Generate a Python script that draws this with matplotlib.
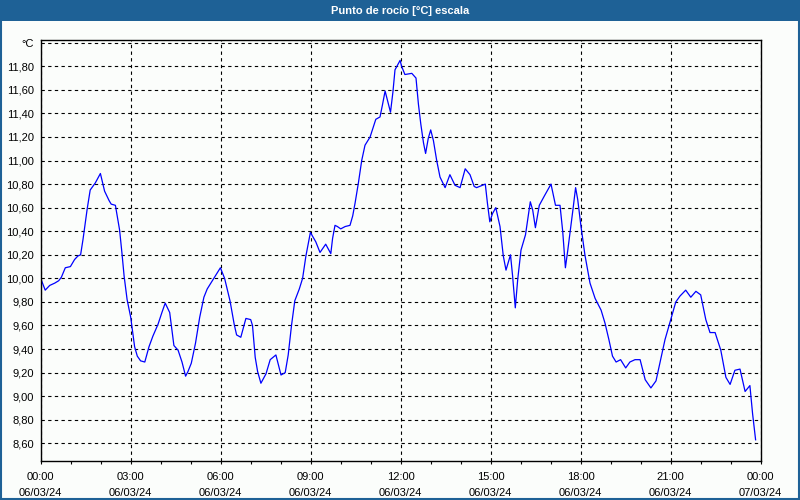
import numpy as np
import pandas as pd
import matplotlib
matplotlib.use("Agg")
import matplotlib.pyplot as plt
import matplotlib.dates as mdates
from matplotlib.patches import Rectangle

# dew point readings, hours after 06/03/24 00:00
hours = [0.00, 0.15, 0.30, 0.47, 0.60, 0.69, 0.82, 0.99, 1.13, 1.24, 1.33, 1.41, 1.55, 1.65, 1.82, 1.99,
         2.13, 2.28, 2.35, 2.49, 2.63, 2.71, 2.78, 2.88, 3.00, 3.13, 3.22, 3.33, 3.47, 3.61, 3.74, 3.91,
         4.04, 4.15, 4.30, 4.44, 4.58, 4.71, 4.83, 4.91, 5.02, 5.16, 5.30, 5.44, 5.55, 5.72, 5.89, 5.99,
         6.13, 6.31, 6.45, 6.53, 6.67, 6.84, 7.00, 7.06, 7.15, 7.23, 7.34, 7.51, 7.65, 7.84, 8.01, 8.15,
         8.25, 8.36, 8.47, 8.62, 8.73, 8.84, 8.99, 9.17, 9.31, 9.50, 9.67, 9.73, 9.81, 9.89, 10.00, 10.15,
         10.31, 10.40, 10.48, 10.59, 10.70, 10.81, 10.98, 11.07, 11.17, 11.31, 11.39, 11.48, 11.56, 11.66,
         11.74, 11.81, 11.98, 12.03, 12.14, 12.37, 12.51, 12.59, 12.67, 12.76, 12.83, 12.92, 13.00, 13.09,
         13.20, 13.31, 13.48, 13.64, 13.81, 13.98, 14.15, 14.31, 14.45, 14.53, 14.82, 14.89, 14.97, 15.06,
         15.17, 15.31, 15.42, 15.51, 15.66, 15.73, 15.82, 15.90, 16.01, 16.16, 16.32, 16.40, 16.49, 16.62,
         16.79, 17.01, 17.16, 17.31, 17.40, 17.49, 17.57, 17.74, 17.83, 17.90, 18.01, 18.14, 18.31, 18.48,
         18.68, 18.81, 18.94, 19.06, 19.18, 19.33, 19.50, 19.64, 19.81, 19.98, 20.15, 20.34, 20.51, 20.64,
         20.81, 21.00, 21.17, 21.31, 21.50, 21.67, 21.84, 22.00, 22.17, 22.31, 22.48, 22.67, 22.84, 22.98,
         23.14, 23.31, 23.48, 23.64, 23.73, 23.83]
dew = [10.00, 9.90, 9.94, 9.96, 9.98, 10.01, 10.09, 10.10, 10.16, 10.19, 10.20, 10.33, 10.59, 10.75, 10.81, 10.89,
       10.74, 10.66, 10.63, 10.62, 10.41, 10.21, 10.02, 9.82, 9.67, 9.42, 9.34, 9.30, 9.29, 9.42, 9.51, 9.61,
       9.71, 9.79, 9.71, 9.43, 9.39, 9.29, 9.17, 9.21, 9.28, 9.45, 9.67, 9.84, 9.91, 9.98, 10.05, 10.09,
       10.00, 9.81, 9.61, 9.52, 9.50, 9.66, 9.65, 9.60, 9.33, 9.21, 9.11, 9.19, 9.31, 9.35, 9.18, 9.20,
       9.35, 9.60, 9.81, 9.91, 10.00, 10.19, 10.39, 10.31, 10.22, 10.29, 10.21, 10.34, 10.45, 10.44, 10.42, 10.44,
       10.45, 10.53, 10.64, 10.81, 11.00, 11.13, 11.20, 11.27, 11.35, 11.37, 11.47, 11.59, 11.51, 11.41,
       11.58, 11.77, 11.85, 11.80, 11.73, 11.74, 11.70, 11.48, 11.31, 11.15, 11.06, 11.19, 11.26, 11.17,
       11.00, 10.86, 10.77, 10.88, 10.79, 10.77, 10.93, 10.88, 10.78, 10.77, 10.80, 10.64, 10.48, 10.55,
       10.60, 10.44, 10.19, 10.07, 10.20, 10.02, 9.75, 9.99, 10.24, 10.37, 10.65, 10.58, 10.43, 10.62,
       10.70, 10.80, 10.62, 10.62, 10.40, 10.09, 10.24, 10.58, 10.77, 10.67, 10.44, 10.20, 9.96, 9.83,
       9.73, 9.62, 9.48, 9.34, 9.29, 9.31, 9.24, 9.29, 9.31, 9.31, 9.14, 9.07, 9.13, 9.28,
       9.48, 9.65, 9.80, 9.85, 9.90, 9.84, 9.89, 9.86, 9.65, 9.54, 9.54, 9.39, 9.16, 9.10,
       9.22, 9.23, 9.04, 9.09, 8.85, 8.63]

ytick_vals = [8.6, 8.8, 9.0, 9.2, 9.4, 9.6, 9.8, 10.0, 10.2, 10.4, 10.6, 10.8, 11.0, 11.2, 11.4, 11.6, 11.8, 12.0]
ytick_labels = ["8,60", "8,80", "9,00", "9,20", "9,40", "9,60", "9,80", "10,00", "10,20", "10,40",
                "10,60", "10,80", "11,00", "11,20", "11,40", "11,60", "11,80", "°C"]
title = "Punto de rocío [°C] escala"

plt.rcParams['font.family'] = ['Liberation Sans', 'DejaVu Sans']

start = pd.Timestamp("2024-03-06 00:00")
times = start + pd.to_timedelta(np.array(hours), unit="h")

bg = "#fbfdfb"
blue_bar = "#1e6196"

fig = plt.figure(figsize=(8, 5), dpi=100, facecolor=bg)

# title bar + outer frame
fig.patches.append(Rectangle((0, 1 - 20.5 / 500), 1, 20.5 / 500, transform=fig.transFigure,
                             facecolor=blue_bar, edgecolor="none", zorder=0))
fig.patches.append(Rectangle((0.001, 0.002), 0.998, 0.996, transform=fig.transFigure,
                             facecolor="none", edgecolor=blue_bar, lw=1.5, zorder=1))
fig.text(0.5, 1 - 10.5 / 500, title, color="white", fontsize=8, fontweight="bold",
         ha="center", va="center")

ax = fig.add_axes([40.7 / 800, 1 - 461 / 500, 720 / 800, 421 / 500])
ax.set_facecolor(bg)

ax.plot(times, dew, color="#0000ff", lw=0.9)

ax.set_xlim(start, start + pd.Timedelta(hours=24))
ax.set_ylim(8.45, 12.023)

ax.xaxis.set_major_locator(mdates.HourLocator(byhour=range(0, 24, 3)))
ax.xaxis.set_minor_locator(mdates.HourLocator())
ax.xaxis.set_major_formatter(mdates.DateFormatter("%H:%M\n%d/%m/%y"))
ax.set_yticks(ytick_vals)
ax.set_yticklabels(ytick_labels)

ax.tick_params(axis="x", which="both", direction="out", length=2.2, width=0.8, pad=5.5, labelsize=8)
ax.tick_params(axis="y", length=0, pad=5, labelsize=8)
for lab in ax.get_xticklabels():
    lab.set_linespacing(1.75)

ax.grid(True, which="major", color="black", linestyle=(0, (3, 3)), lw=0.8)
for s in ax.spines.values():
    s.set_color("black")
    s.set_linewidth(1)

fig.savefig("out.png", dpi=100, facecolor=bg)
